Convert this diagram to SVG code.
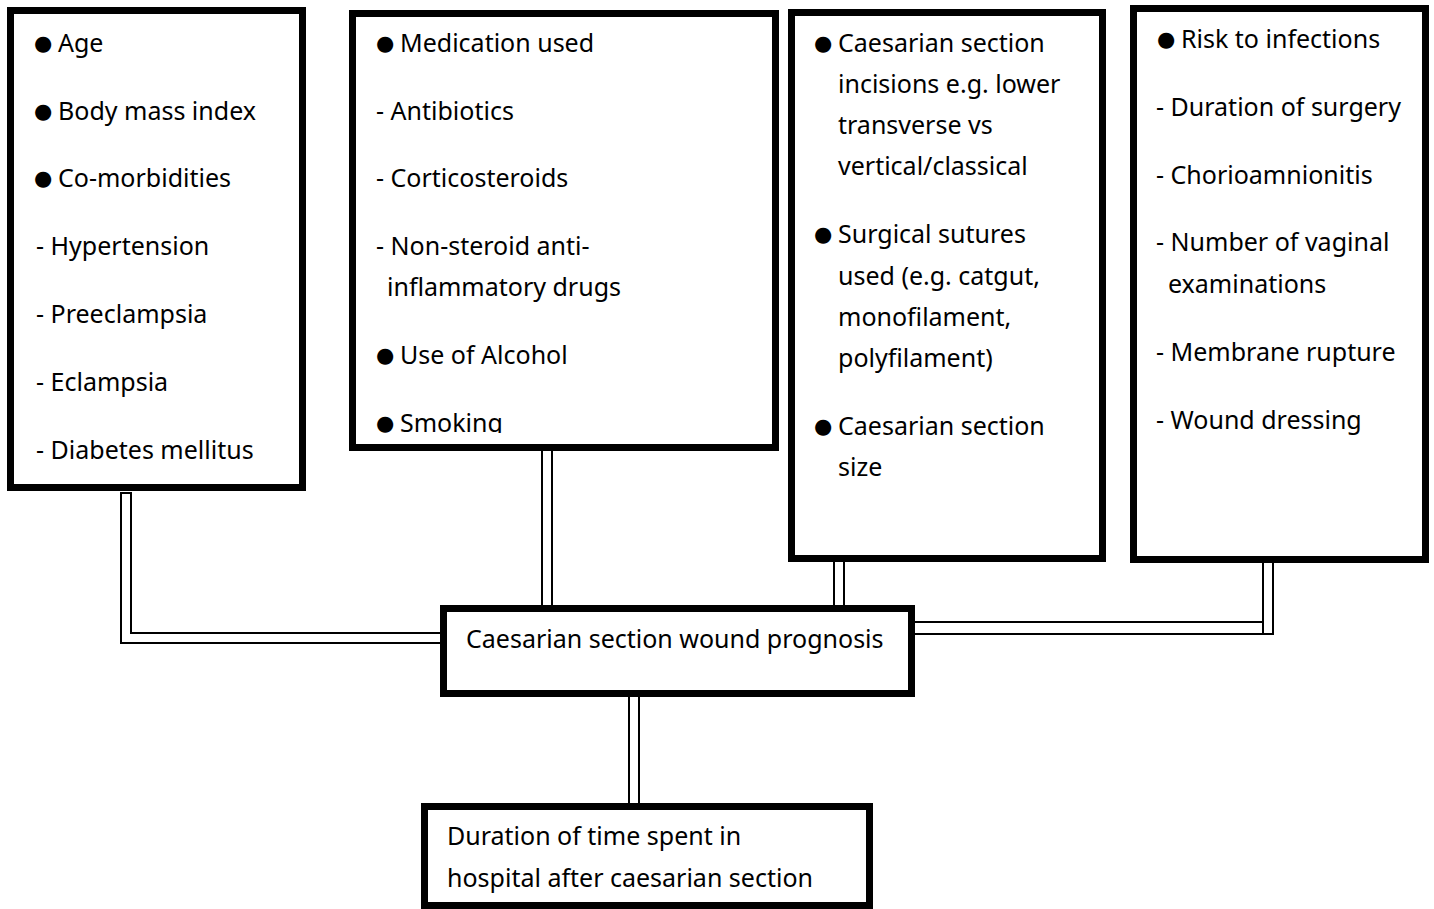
<svg xmlns="http://www.w3.org/2000/svg" width="1434" height="909" viewBox="0 0 1434 909">
<defs>
<style>
.box{fill:#fff;stroke:#000;stroke-width:7}
.con{fill:#fff;stroke:#000;stroke-width:2}
text{font-family:"Noto Sans","Open Sans",sans-serif;font-size:25px;fill:#000}
.b{font-family:"DejaVu Sans",sans-serif;font-size:21px}
</style>
<clipPath id="clip2"><rect x="356" y="17" width="416" height="416"/></clipPath>
</defs>
<rect width="1434" height="909" fill="#fff"/>
<g id="connectors">
<path class="con" d="M121,493 L131,493 L131,633 L443,633 L443,643 L121,643 Z"/>
<rect class="con" x="542" y="448" width="10" height="160"/>
<rect class="con" x="834" y="558" width="10" height="49"/>
<rect class="con" x="912" y="622" width="361" height="12"/>
<rect class="con" x="1263" y="558" width="10" height="76"/>
<rect class="con" x="629" y="694" width="10" height="110"/>
</g>
<g id="node-patient">
<rect class="box" x="10.5" y="10.5" width="292" height="477"/>
<text><tspan class="b" x="34" y="50">●</tspan><tspan x="58" y="52">Age</tspan></text>
<text><tspan class="b" x="34" y="118">●</tspan><tspan x="58" y="120">Body mass index</tspan></text>
<text><tspan class="b" x="34" y="185">●</tspan><tspan x="58" y="187">Co-morbidities</tspan></text>
<text x="36" y="255">- Hypertension</text>
<text x="36" y="323">- Preeclampsia</text>
<text x="36" y="391">- Eclampsia</text>
<text x="36" y="459">- Diabetes mellitus</text>
</g>
<g id="node-medication">
<rect class="box" x="352.5" y="13.5" width="423" height="434"/>
<g clip-path="url(#clip2)">
<text><tspan class="b" x="376" y="50">●</tspan><tspan x="400" y="52">Medication used</tspan></text>
<text x="376" y="120">- Antibiotics</text>
<text x="376" y="187">- Corticosteroids</text>
<text x="376" y="255">- Non-steroid anti-</text>
<text x="387" y="296">inflammatory drugs</text>
<text><tspan class="b" x="376" y="362">●</tspan><tspan x="400" y="364">Use of Alcohol</tspan></text>
<text><tspan class="b" x="376" y="430">●</tspan><tspan x="400" y="432">Smoking</tspan></text>
</g>
</g>
<g id="node-surgery">
<rect class="box" x="791.5" y="12.5" width="311" height="546"/>
<text><tspan class="b" x="814" y="50">●</tspan><tspan x="838" y="52">Caesarian section</tspan></text>
<text x="838" y="93">incisions e.g. lower</text>
<text x="838" y="134">transverse vs</text>
<text x="838" y="175">vertical/classical</text>
<text><tspan class="b" x="814" y="241">●</tspan><tspan x="838" y="243">Surgical sutures</tspan></text>
<text x="838" y="285">used (e.g. catgut,</text>
<text x="838" y="326">monofilament,</text>
<text x="838" y="367">polyfilament)</text>
<text><tspan class="b" x="814" y="433">●</tspan><tspan x="838" y="435">Caesarian section</tspan></text>
<text x="838" y="476">size</text>
</g>
<g id="node-infection">
<rect class="box" x="1133.5" y="8.5" width="292" height="551"/>
<text><tspan class="b" x="1157" y="46">●</tspan><tspan x="1181" y="48">Risk to infections</tspan></text>
<text x="1156" y="116">- Duration of surgery</text>
<text x="1156" y="184">- Chorioamnionitis</text>
<text x="1156" y="251">- Number of vaginal</text>
<text x="1168" y="293">examinations</text>
<text x="1156" y="361">- Membrane rupture</text>
<text x="1156" y="429">- Wound dressing</text>
</g>
<g id="node-prognosis">
<rect class="box" x="443.5" y="608.5" width="468" height="85"/>
<text x="466" y="648">Caesarian section wound prognosis</text>
</g>
<g id="node-duration">
<rect class="box" x="424.5" y="806.5" width="445" height="99"/>
<text x="447" y="845">Duration of time spent in</text>
<text x="447" y="887">hospital after caesarian section</text>
</g>
</svg>
